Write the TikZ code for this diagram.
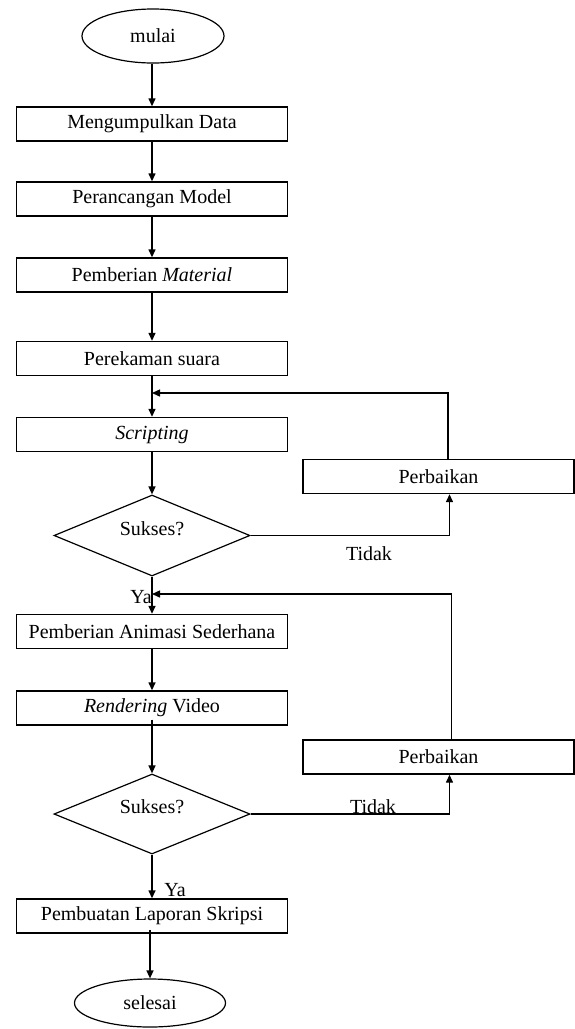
\documentclass[tikz,border=0pt]{standalone}
\usepackage{fontspec}
\setmainfont{Liberation Serif}
\usetikzlibrary{shapes.geometric,arrows.meta,calc}
\begin{document}
\begin{tikzpicture}[x=1pt,y=-1pt,
  every node/.style={font=\fontsize{20}{22}\selectfont, inner sep=0pt},
  procbox/.style={draw, line width=1.4pt, minimum width=271pt, minimum height=34pt},
  termin/.style={draw, ellipse, line width=1.2pt},
  decide/.style={draw, diamond, line width=1.2pt, aspect=2.4},
  flow/.style={line width=1.4pt, -{Triangle[length=8pt,width=7pt]}}]
\useasboundingbox (0,0) rectangle (575,1029);
\node[termin, minimum width=142pt, minimum height=54pt] (mulai) at (153,36) {mulai};
\node[procbox] (b1) at (152,124) {Mengumpulkan Data};
\node[procbox] (b2) at (152,199) {Perancangan Model};
\node[procbox] (b3) at (152,275) {Pemberian \textit{Material}};
\node[procbox] (b4) at (152,358.5) {Perekaman suara};
\node[procbox] (b5) at (152,434.5) {\textit{Scripting}};
\node[procbox] (p1) at (438.5,476.5) {Perbaikan};
\node[decide, minimum width=196pt, minimum height=81pt] (d1) at (152,535.5) {\raisebox{14pt}{Sukses?}};
\node (t1) at (369,554) {Tidak};
\node (y1) at (141,597) {Ya};
\coordinate (j1) at (152,393);
\coordinate (j2) at (152,594);
\node[procbox] (b6) at (152,631.5) {Pemberian Animasi Sederhana};
\node[procbox] (b7) at (152,708) {\textit{Rendering} Video};
\node[procbox] (p2) at (438.5,757) {Perbaikan};
\node[decide, minimum width=196pt, minimum height=80pt] (d2) at (152,814) {\raisebox{14pt}{Sukses?}};
\node (t2) at (373,807) {Tidak};
\node (y2) at (175,890) {Ya};
\node[procbox] (b8) at (152,916) {Pembuatan Laporan Skripsi};
\node[termin, minimum width=151pt, minimum height=48pt] (selesai) at (150,1003) {selesai};

\draw[flow] (mulai.south -| b1.north) -- (b1.north);
\draw[flow] (b1) -- (b2);
\draw[flow] (b2) -- (b3);
\draw[flow] (b3) -- (b4);
\draw[flow] (b4) -- (b5);
\draw[flow] (b5) -- (d1.north);
\draw[flow] (d1.south) -- (b6.north);
\draw[flow] (b6) -- (b7);
\draw[flow] ([yshift=6pt]b7.south) -- (d2.north);
\draw[flow] (d2.south) -- (b8.north);
\draw[flow] ([yshift=4pt]b8.south -| selesai.north) -- (selesai.north);
\draw[flow] (d1.east) -| ([xshift=11pt]p1.south);
\draw[flow] ([xshift=9.5pt]p1.north) |- (j1);
\draw[flow] (d2.east) -| ([xshift=11pt]p2.south);
\draw[flow] ([xshift=13pt]p2.north) |- (j2);
\end{tikzpicture}
\end{document}
